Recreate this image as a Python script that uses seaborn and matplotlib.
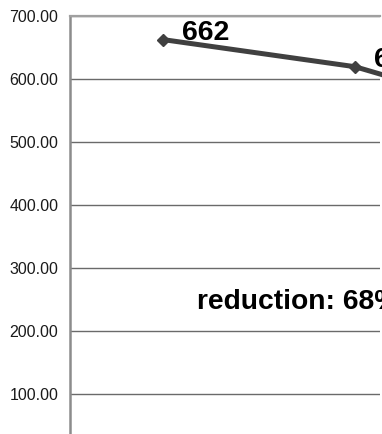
import matplotlib
matplotlib.use("Agg")
import matplotlib.pyplot as plt
import seaborn as sns
import pandas as pd
from matplotlib.ticker import FuncFormatter

# series values per period
periods = [0, 1, 2]
values = [662, 619, 530]
value_labels = ["662", "619", "530"]
y_ticks = [0, 100, 200, 300, 400, 500, 600, 700]
note_text = "reduction: 68%"

sns.set_style("white")
plt.rcParams["font.family"] = ["Liberation Sans", "DejaVu Sans"]

W, H = 382, 434
fig = plt.figure(figsize=(W / 100, H / 100), dpi=100)
ax = fig.add_axes([70 / W, 1 - 457.4 / H, 310 / W, (457.4 - 15.6) / H])

df = pd.DataFrame({"period": periods, "value": values})
sns.lineplot(data=df, x="period", y="value", ax=ax, color="#404040",
             linewidth=3.6, marker="D", markersize=6.5, markeredgewidth=1,
             markeredgecolor="#404040", clip_on=False, zorder=5)

for x, y, lab in zip(periods, values, value_labels):
    ax.annotate(lab, (x, y), xytext=(13.5, 0), textcoords="offset points",
                ha="left", va="baseline", fontsize=20.5, fontweight="bold",
                color="black", annotation_clip=False)

ax.set_xlim(-0.484, 1.130)
ax.set_ylim(0, 700)
ax.set_yticks(y_ticks)
ax.yaxis.set_major_formatter(FuncFormatter(lambda v, p: f"{v:.2f}"))
ax.set_xticks([])
ax.tick_params(axis="y", length=0, pad=8.5, labelsize=11.5, labelcolor="#1a1a1a")
ax.set_xlabel("")
ax.set_ylabel("")

ax.grid(axis="y", color="#6a6a6a", linewidth=1.0)
ax.set_axisbelow(True)
for side in ["right", "bottom"]:
    ax.spines[side].set_visible(False)
ax.spines["top"].set_color("#a0a0a0")
ax.spines["top"].set_linewidth(1.6)
ax.spines["left"].set_color("#8c8c8c")
ax.spines["left"].set_linewidth(1.8)

fig.text(197 / W, 1 - 309 / H, note_text, fontsize=20.3, fontweight="bold",
         ha="left", va="baseline", color="black")

fig.savefig("out.png", dpi=100)
